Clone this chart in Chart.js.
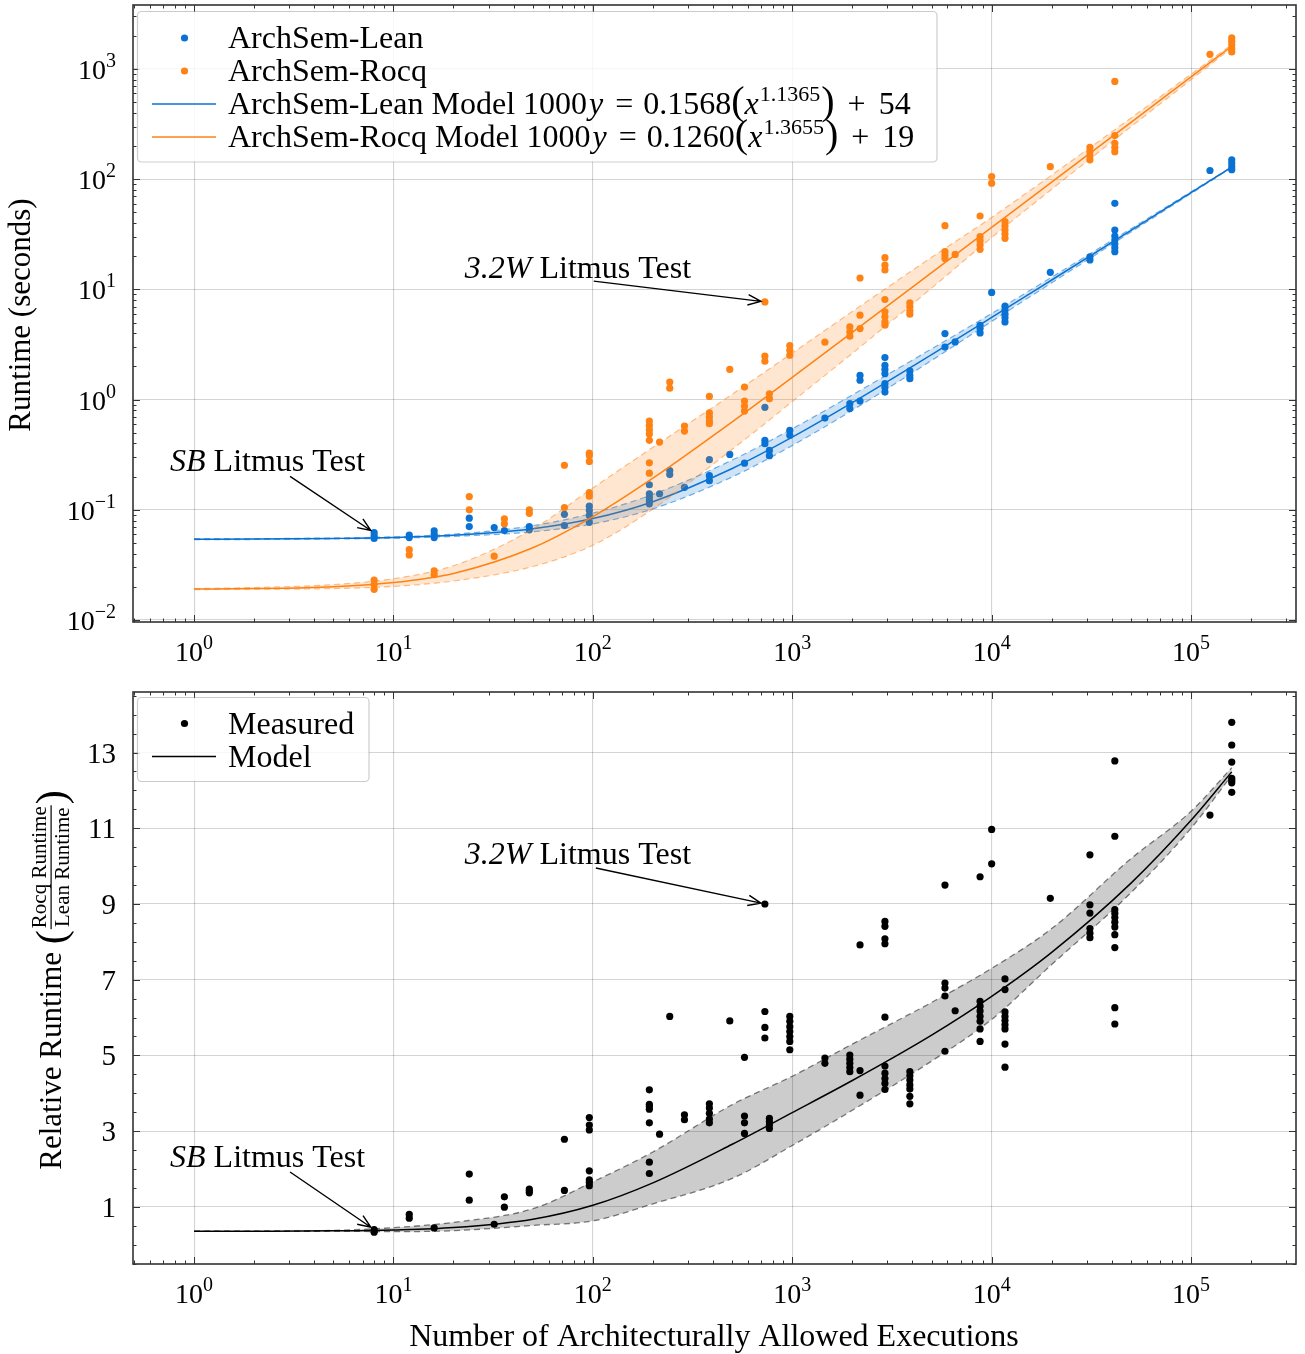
<!DOCTYPE html>
<html>
<head>
<meta charset="utf-8">
<script src="https://cdn.jsdelivr.net/npm/chart.js@4.4.1/dist/chart.umd.min.js"></script>
<style>
  html, body { margin: 0; padding: 0; background: #fff; }
  #wrap { position: relative; width: 1305px; height: 1354px; }
  #c1 { position: absolute; left: 0; top: 0; display: block; }
  #c2 { position: absolute; left: 0; top: 670px; display: block; }
</style>
</head>
<body>
<div id="wrap">
  <canvas id="c1" width="1305" height="670"></canvas>
  <canvas id="c2" width="1305" height="684"></canvas>
</div>
<script>
/* ========= Data ========= */
const execCounts = [8, 12, 16, 24, 32, 36, 48, 72, 96, 192, 216, 243, 288, 384, 486, 576, 729, 768, 972,
  1458, 1944, 2187, 2916, 3888, 5832, 6561, 8748, 10000, 11664, 19683, 31104, 41472, 124416, 160000];

// runtime in seconds, one list per execution count
const leanTimes = [
  [0.062, 0.058, 0.055], [0.059, 0.056], [0.0645, 0.06, 0.056], [0.084, 0.0705], [0.069], [0.0648],
  [0.0705, 0.0658], [0.091, 0.072], [0.108, 0.0985, 0.0887, 0.077], [0.169, 0.14, 0.13, 0.1215, 0.1135],
  [0.14], [0.227, 0.209], [0.16], [0.285, 0.204, 0.184], [0.318], [0.265], [0.851, 0.427, 0.398],
  [0.346, 0.31], [0.526, 0.474], [0.68], [0.92, 0.83], [1.66, 1.5, 0.97],
  [2.41, 2.05, 1.88, 1.72, 1.4, 1.29, 1.17], [1.82, 1.66, 1.55], [3.98, 3.0], [3.34], [4.73, 4.42, 4.03],
  [9.4], [7.05, 6.48, 5.96, 5.52, 5.07], [14.3], [19.8, 18.5], [60.5, 34.6, 30.5, 28.1, 25.8, 23.9, 22],
  [120], [150, 140, 130, 122]
];
const rocqTimes = [
  [0.023, 0.021, 0.019], [0.0435, 0.039], [0.028, 0.0258], [0.132, 0.1], [0.038], [0.083, 0.0746],
  [0.1, 0.093], [0.254, 0.105], [0.327, 0.312, 0.275, 0.143, 0.133], [0.64, 0.583, 0.533, 0.487, 0.427, 0.267, 0.215],
  [0.412], [1.445, 1.27], [0.575, 0.519], [1.07, 0.757, 0.695, 0.64, 0.605], [1.88], [1.3, 0.97, 0.875, 0.787],
  [7.71, 2.48, 2.23], [1.13, 1.02], [3.1, 2.8, 2.53], [3.32], [4.57, 4.12, 3.76], [12.7, 5.84, 4.41],
  [19.4, 16.6, 15.0, 8.1, 6.26, 5.64, 5.07, 4.73], [7.55, 6.95, 6.4, 5.96], [37.9, 22, 20.5, 19.1], [20.8],
  [46.4, 30.1, 27.7, 25.3, 23.1], [105.6, 92], [41.2, 37.6, 34.6, 31.8, 29.1], [130], [195, 178, 163, 150],
  [771, 249, 212, 194, 178], [1358], [1914, 1783, 1664, 1530, 1428]
];
const ratios = [
  [0.40, 0.36, 0.33], [0.80, 0.70], [0.444], [1.866, 1.177], [0.54], [1.265, 0.99], [1.47, 1.42, 1.37],
  [2.785, 1.434], [3.36, 3.16, 3.03, 1.95, 1.71, 1.64, 1.56], [4.09, 3.71, 3.65, 3.58, 3.22, 2.18, 1.88],
  [2.92], [6.03], [3.43, 3.3], [3.72, 3.61, 3.47, 3.32, 3.22], [5.91], [4.95, 3.4, 3.22, 2.94],
  [9.0, 6.16, 5.74, 5.46], [3.34, 3.25, 3.16, 3.07], [6.03, 5.9, 5.76, 5.63, 5.5, 5.37, 5.15], [4.93, 4.79],
  [5.01, 4.9, 4.79, 4.68, 4.57], [7.92, 4.6, 3.95], [8.54, 8.41, 8.08, 7.95, 6.01, 4.72, 4.53, 4.39, 4.26, 4.1],
  [4.57, 4.46, 4.35, 4.22, 4.11, 3.92, 3.72], [9.5, 6.91, 6.78, 6.57, 5.11], [6.18],
  [9.72, 6.43, 6.3, 6.17, 6.03, 5.9, 5.7, 5.37], [10.97, 10.06], [7.02, 6.74, 6.15, 6.03, 5.92, 5.81, 5.7, 5.3, 4.69],
  [9.15], [10.3, 8.98, 8.76, 8.35, 8.23, 8.11], [12.78, 10.79, 8.85, 8.75, 8.64, 8.52, 8.39, 8.19, 7.85, 6.26, 5.83],
  [11.35], [13.8, 13.2, 12.75, 12.32, 12.26, 12.2, 11.95]
];

// model curves and their bands, sampled along x
const curveX    = [1, 2, 5, 10, 20, 50, 100, 200, 500, 1000, 2000, 5000, 10000, 20000, 50000, 100000, 160000];
const leanModel = [0.0542, 0.0543, 0.0550, 0.0561, 0.0587, 0.0674, 0.0834, 0.1186, 0.2372, 0.4565, 0.9388, 2.561, 5.566, 12.18, 34.39, 75.55, 128.8];
const leanLow   = [0.0537, 0.0538, 0.0544, 0.0553, 0.0574, 0.0632, 0.0745, 0.1020, 0.1990, 0.3830, 0.8000, 2.270, 5.120, 11.48, 33.20, 74.17, 127.3];
const leanHigh  = [0.0547, 0.0548, 0.0556, 0.0569, 0.0601, 0.0719, 0.0934, 0.1380, 0.2830, 0.5440, 1.102, 2.890, 6.050, 12.92, 35.60, 76.96, 129.5];
const rocqModel = [0.0191, 0.0193, 0.0201, 0.0219, 0.0265, 0.0453, 0.0868, 0.1938, 0.6296, 1.593, 4.072, 14.18, 36.52, 94.07, 328.5, 847, 1609];
const rocqLow   = [0.0189, 0.0190, 0.0193, 0.0202, 0.0226, 0.0306, 0.0477, 0.1017, 0.3541, 0.9596, 2.629, 10.28, 29.6, 81.0, 299.7, 800.0, 1555];
const rocqHigh  = [0.0193, 0.0197, 0.0210, 0.0237, 0.0311, 0.0670, 0.1580, 0.3692, 1.119, 2.644, 6.308, 19.57, 45.0, 109.0, 360.0, 897.0, 1665];
const ratioModel = [0.353, 0.356, 0.366, 0.390, 0.452, 0.673, 1.041, 1.634, 2.654, 3.490, 4.337, 5.537, 6.561, 7.723, 9.552, 11.21, 12.49];
const ratioLow   = [0.350, 0.352, 0.355, 0.345, 0.37, 0.51, 0.63, 1.08, 1.75, 2.62, 3.55, 4.85, 5.95, 7.4, 9.3, 11.0, 12.4];
const ratioHigh  = [0.356, 0.360, 0.378, 0.45, 0.59, 0.95, 1.66, 2.45, 3.70, 4.45, 5.3, 6.4, 7.3, 8.35, 10.2, 11.45, 12.6];

// axes
const decadeTicks = [1, 10, 100, 1000, 10000, 100000];
const runtimeTicks = [0.01, 0.1, 1, 10, 100, 1000];
const ratioTicks = [1, 3, 5, 7, 9, 11, 13];

/* ========= Styling helpers ========= */
const SERIF = '"Liberation Serif", "Times New Roman", serif';
const F = (size, style) => `${style ? style + ' ' : ''}${size}px ${SERIF}`;
const BLUE = "#0a72d4";
const ORANGE = "#ff8214";
const BLUE_A = (a) => `rgba(10,114,212,${a})`;
const ORANGE_A = (a) => `rgba(255,130,20,${a})`;

function pts(xs, lists) {
  const out = [];
  xs.forEach((x, i) => lists[i].forEach((y) => out.push({ x, y })));
  return out;
}
function curve(ys) { return curveX.map((x, i) => ({ x, y: ys[i] })); }

function rich(ctx, segs, x, y, align) {
  let w = 0;
  segs.forEach((s) => { ctx.font = s.f; s.w = ctx.measureText(s.t).width + (s.gap || 0); w += s.w; });
  let cx = align === "center" ? x - w / 2 : align === "right" ? x - w : x;
  ctx.textAlign = "left";
  segs.forEach((s) => { ctx.font = s.f; ctx.fillText(s.t, cx + (s.gap || 0) / 2, y + (s.dy || 0)); cx += s.w; });
  return w;
}
function pow10(v) {
  const e = Math.round(Math.log10(v));
  return [{ t: "10", f: F(28) }, { t: e < 0 ? "\u2212" + (-e) : String(e), f: F(20), dy: -12 }];
}
function logMarks(min, max) {
  const out = [];
  for (let d = Math.floor(Math.log10(min)); d <= Math.ceil(Math.log10(max)); d++)
    for (let k = 1; k <= 9; k++) {
      const v = k * Math.pow(10, d);
      if (v >= min && v <= max) out.push([v, k === 1]);
    }
  return out;
}
function linMarks(min, max) {
  const out = [];
  for (let v = Math.ceil(min * 2) / 2; v <= max; v += 0.5) out.push([v, ratioTicks.includes(v)]);
  return out;
}

function arrow(ctx, x0, y0, x1, y1) {
  const ang = Math.atan2(y1 - y0, x1 - x0);
  x1 -= 4 * Math.cos(ang); y1 -= 4 * Math.sin(ang);
  ctx.beginPath();
  ctx.moveTo(x0, y0); ctx.lineTo(x1, y1);
  const L = 14, s = 0.38;
  ctx.moveTo(x1 - L * Math.cos(ang - s), y1 - L * Math.sin(ang - s));
  ctx.lineTo(x1, y1);
  ctx.lineTo(x1 - L * Math.cos(ang + s), y1 - L * Math.sin(ang + s));
  ctx.stroke();
}

/* ========= Frame, ticks, labels, legend, notes ========= */
const decor = {
  id: "decor",
  afterDatasetsDraw(chart, args, o) {
    const ctx = chart.ctx, a = chart.chartArea, xs = chart.scales.x, ys = chart.scales.y;
    ctx.save();
    ctx.strokeStyle = "#333"; ctx.lineWidth = 1;
    ctx.beginPath();
    logMarks(xs.min, xs.max).forEach(([v, major]) => {
      const px = Math.round(xs.getPixelForValue(v)) + 0.5, len = major ? 7 : 3.5;
      ctx.moveTo(px, a.bottom); ctx.lineTo(px, a.bottom - len);
      ctx.moveTo(px, a.top); ctx.lineTo(px, a.top + len);
    });
    (o.yLog ? logMarks(ys.min, ys.max) : linMarks(ys.min, ys.max)).forEach(([v, major]) => {
      const py = Math.round(ys.getPixelForValue(v)) + 0.5, len = major ? 7 : 3.5;
      ctx.moveTo(a.left, py); ctx.lineTo(a.left + len, py);
      ctx.moveTo(a.right, py); ctx.lineTo(a.right - len, py);
    });
    ctx.stroke();
    ctx.lineWidth = 1.6;
    ctx.strokeRect(a.left, a.top, a.right - a.left, a.bottom - a.top);
    ctx.restore();
  },
  afterDraw(chart, args, o) {
    const ctx = chart.ctx, a = chart.chartArea, xs = chart.scales.x, ys = chart.scales.y;
    ctx.save();
    ctx.fillStyle = "#000";
    ctx.textBaseline = "alphabetic";

    // tick labels
    decadeTicks.forEach((v) => rich(ctx, pow10(v), xs.getPixelForValue(v), a.bottom + 39, "center"));
    if (o.yLog) {
      runtimeTicks.forEach((v) => rich(ctx, pow10(v), 116, ys.getPixelForValue(v) + 10, "right"));
    } else {
      ratioTicks.forEach((v) => rich(ctx, [{ t: String(v), f: F(29) }], 116, ys.getPixelForValue(v) + 10, "right"));
    }

    // axis titles
    if (o.yLog) {
      ctx.save();
      ctx.translate(22, 315); ctx.rotate(-Math.PI / 2);
      ctx.font = F(31); ctx.textAlign = "center"; ctx.textBaseline = "middle";
      ctx.fillText("Runtime (seconds)", 0, 0);
      ctx.restore();
    } else {
      rich(ctx, [{ t: "Number of Architecturally Allowed Executions", f: F(32) }], 714, a.bottom + 82, "center");
      ctx.save();
      ctx.translate(50, 310); ctx.rotate(-Math.PI / 2);
      const main = "Relative Runtime ", num = "Rocq Runtime", den = "Lean Runtime";
      ctx.font = F(31); const wm = ctx.measureText(main).width;
      ctx.font = F(42); const wp = ctx.measureText("(").width;
      ctx.font = F(21); const wf = Math.max(ctx.measureText(num).width, ctx.measureText(den).width) + 4;
      let u = -(wm + 2 * wp + wf) / 2;
      ctx.textAlign = "left";
      ctx.font = F(31); ctx.fillText(main, u, 11); u += wm;
      ctx.font = F(42); ctx.fillText("(", u, 15); u += wp;
      ctx.font = F(21); ctx.textAlign = "center";
      ctx.fillText(num, u + wf / 2, -4);
      ctx.fillText(den, u + wf / 2, 19);
      ctx.fillRect(u + 1, 0.5, wf - 2, 1.2);
      ctx.textAlign = "left"; u += wf;
      ctx.font = F(42); ctx.fillText(")", u, 15);
      ctx.restore();
    }

    // legend
    const L = o.legend;
    ctx.save();
    ctx.beginPath();
    ctx.roundRect(L.box[0], L.box[1], L.box[2], L.box[3], 4);
    ctx.fillStyle = "rgba(255,255,255,0.8)"; ctx.fill();
    ctx.strokeStyle = "rgba(0,0,0,0.2)"; ctx.lineWidth = 1.2; ctx.stroke();
    ctx.restore();
    L.rows.forEach((r, i) => {
      const cy = L.box[1] + L.first + i * L.step;
      if (r.kind === "dot") {
        ctx.beginPath(); ctx.arc(184.5, cy, 3.6, 0, Math.PI * 2); ctx.fillStyle = r.color; ctx.fill();
      } else {
        ctx.beginPath(); ctx.moveTo(152, cy); ctx.lineTo(216, cy);
        ctx.strokeStyle = r.color; ctx.lineWidth = 1.6; ctx.stroke();
      }
      ctx.fillStyle = "#000";
      rich(ctx, r.segs, 228, cy + 10, "left");
    });

    // annotations
    ctx.strokeStyle = "#000"; ctx.lineWidth = 1.4; ctx.fillStyle = "#000";
    o.notes.forEach((n) => {
      const tx = xs.getPixelForValue(n.at[0]), ty = ys.getPixelForValue(n.at[1]);
      rich(ctx, [{ t: n.it, f: F(32, "italic") }, { t: " Litmus Test", f: F(32) }], tx, ty + 10, "left");
      arrow(ctx, xs.getPixelForValue(n.from[0]), ys.getPixelForValue(n.from[1]),
        xs.getPixelForValue(n.to[0]), ys.getPixelForValue(n.to[1]));
    });
    ctx.restore();
  }
};

function modelSegs(name, coef, expo, off) {
  return [
    { t: name + " Model 1000", f: F(32) }, { t: "y", f: F(32, "italic"), gap: 4 }, { t: "=", f: F(32), gap: 20 },
    { t: coef, f: F(32) }, { t: "(", f: F(40) }, { t: "x", f: F(32, "italic") }, { t: expo, f: F(22), dy: -13, gap: 2 },
    { t: ")", f: F(40) }, { t: "+", f: F(32), gap: 26 }, { t: off, f: F(32) }
  ];
}

function scaleX() {
  return {
    type: "logarithmic", min: 0.494, max: 336000,
    afterBuildTicks: (s) => { s.ticks = decadeTicks.map((v) => ({ value: v })); },
    ticks: { display: false },
    grid: { color: "rgba(0,0,0,0.17)", lineWidth: 1.1, drawTicks: false },
    border: { display: false }
  };
}

const common = {
  responsive: false,
  animation: false,
  events: [],
  plugins: { legend: { display: false }, tooltip: { enabled: false } }
};

/* ========= Top chart: runtimes ========= */
new Chart(document.getElementById("c1"), {
  type: "scatter",
  data: {
    datasets: [
      { data: pts(execCounts, leanTimes), pointRadius: 3.6, pointBorderWidth: 0, pointBackgroundColor: BLUE, order: 6 },
      { data: curve(leanModel), showLine: true, borderColor: BLUE, borderWidth: 1.5, pointRadius: 0, cubicInterpolationMode: "monotone", order: 5 },
      { data: curve(leanLow), showLine: true, borderColor: BLUE_A(0.55), borderWidth: 1.2, borderDash: [6, 4], pointRadius: 0, cubicInterpolationMode: "monotone", order: 4 },
      { data: curve(leanHigh), showLine: true, borderColor: BLUE_A(0.55), borderWidth: 1.2, borderDash: [6, 4], pointRadius: 0, cubicInterpolationMode: "monotone", fill: "-1", backgroundColor: BLUE_A(0.2), order: 4 },
      { data: pts(execCounts, rocqTimes), pointRadius: 3.6, pointBorderWidth: 0, pointBackgroundColor: ORANGE, order: 3 },
      { data: curve(rocqModel), showLine: true, borderColor: ORANGE, borderWidth: 1.5, pointRadius: 0, cubicInterpolationMode: "monotone", order: 2 },
      { data: curve(rocqLow), showLine: true, borderColor: ORANGE_A(0.5), borderWidth: 1.2, borderDash: [6, 4], pointRadius: 0, cubicInterpolationMode: "monotone", order: 1 },
      { data: curve(rocqHigh), showLine: true, borderColor: ORANGE_A(0.5), borderWidth: 1.2, borderDash: [6, 4], pointRadius: 0, cubicInterpolationMode: "monotone", fill: "-1", backgroundColor: ORANGE_A(0.2), order: 1 }
    ]
  },
  options: {
    ...common,
    layout: { padding: { left: 133, right: 9, top: 5, bottom: 48 } },
    scales: {
      x: scaleX(),
      y: {
        type: "logarithmic", min: 0.0096, max: 3810,
        afterBuildTicks: (s) => { s.ticks = runtimeTicks.map((v) => ({ value: v })); },
        ticks: { display: false },
        grid: { color: "rgba(0,0,0,0.17)", lineWidth: 1.1, drawTicks: false },
        border: { display: false }
      }
    },
    plugins: {
      ...common.plugins,
      decor: {
        yLog: true,
        legend: {
          box: [137.5, 11.5, 799.5, 150.5], first: 26.5, step: 33,
          rows: [
            { kind: "dot", color: BLUE, segs: [{ t: "ArchSem-Lean", f: F(32) }] },
            { kind: "dot", color: ORANGE, segs: [{ t: "ArchSem-Rocq", f: F(32) }] },
            { kind: "line", color: BLUE, segs: modelSegs("ArchSem-Lean", "0.1568", "1.1365", "54") },
            { kind: "line", color: ORANGE, segs: modelSegs("ArchSem-Rocq", "0.1260", "1.3655", "19") }
          ]
        },
        notes: [
          { it: "3.2W", at: [22.8, 15.6], from: [101, 11.9], to: [729, 7.71] },
          { it: "SB", at: [0.758, 0.275], from: [3.03, 0.201], to: [8, 0.062] }
        ]
      }
    }
  },
  plugins: [decor]
});

/* ========= Bottom chart: relative runtime ========= */
new Chart(document.getElementById("c2"), {
  type: "scatter",
  data: {
    datasets: [
      { data: pts(execCounts, ratios), pointRadius: 3.6, pointBorderWidth: 0, pointBackgroundColor: "#000", order: 3 },
      { data: curve(ratioModel), showLine: true, borderColor: "#000", borderWidth: 1.5, pointRadius: 0, cubicInterpolationMode: "monotone", order: 2 },
      { data: curve(ratioLow), showLine: true, borderColor: "rgba(0,0,0,0.5)", borderWidth: 1.3, borderDash: [6, 4], pointRadius: 0, cubicInterpolationMode: "monotone", order: 1 },
      { data: curve(ratioHigh), showLine: true, borderColor: "rgba(0,0,0,0.5)", borderWidth: 1.3, borderDash: [6, 4], pointRadius: 0, cubicInterpolationMode: "monotone", fill: "-1", backgroundColor: "rgba(0,0,0,0.2)", order: 1 }
    ]
  },
  options: {
    ...common,
    layout: { padding: { left: 133, right: 9, top: 22, bottom: 90 } },
    scales: {
      x: scaleX(),
      y: {
        type: "linear", min: -0.51, max: 14.6,
        afterBuildTicks: (s) => { s.ticks = ratioTicks.map((v) => ({ value: v })); },
        ticks: { display: false },
        grid: { color: "rgba(0,0,0,0.17)", lineWidth: 1.1, drawTicks: false },
        border: { display: false }
      }
    },
    plugins: {
      ...common.plugins,
      decor: {
        yLog: false,
        legend: {
          box: [137.5, 27.5, 231.5, 84], first: 26, step: 33,
          rows: [
            { kind: "dot", color: "#000", segs: [{ t: "Measured", f: F(32) }] },
            { kind: "line", color: "#000", segs: [{ t: "Model", f: F(32) }] }
          ]
        },
        notes: [
          { it: "3.2W", at: [22.8, 10.32], from: [103.5, 9.95], to: [729, 9.0] },
          { it: "SB", at: [0.758, 2.32], from: [3.03, 1.92], to: [8, 0.40] }
        ]
      }
    }
  },
  plugins: [decor]
});
</script>
</body>
</html>
